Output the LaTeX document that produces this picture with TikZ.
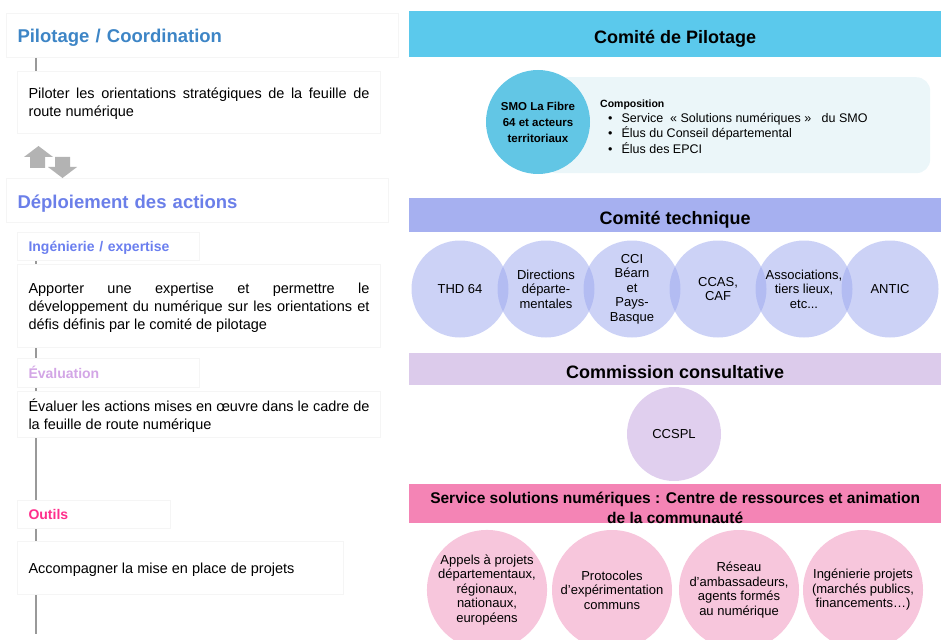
\documentclass[tikz,border=0pt]{standalone}
\usepackage{fontspec}
\setmainfont{Liberation Sans}
\usetikzlibrary{positioning}

\definecolor{cpilot}{HTML}{3D85C6}
\definecolor{cdeploy}{HTML}{6B7FE9}
\definecolor{cing}{HTML}{6B7FEF}
\definecolor{ceval}{HTML}{D3A6E6}
\definecolor{coutil}{HTML}{FF2E8C}
\definecolor{ccopil}{HTML}{5BC9EC}
\definecolor{ctechband}{HTML}{A6B0F0}
\definecolor{ctech}{HTML}{9AA6EE}
\definecolor{ccons}{HTML}{DCCBEB}
\definecolor{cccspl}{HTML}{E0CFEE}
\definecolor{cservband}{HTML}{F484B5}
\definecolor{cserv}{HTML}{F7C6DC}
\definecolor{ccomp}{HTML}{EBF6F9}
\definecolor{csmo}{HTML}{62C6E5}
\definecolor{cline}{HTML}{999999}
\definecolor{cicon}{HTML}{B3B3B3}

\begin{document}
\begin{tikzpicture}[x=1pt, y=-1pt,
	card/.style={fill=white, draw=black!4, line width=1pt, anchor=north west, inner xsep=11pt, inner ysep=0pt},
	head/.style={card, align=left, text height=18.5pt, text depth=3.5pt, font=\bfseries\fontsize{18.5}{22}\selectfont},
	subhead/.style={card, align=left, text height=12pt, text depth=2pt, font=\bfseries\fontsize{14}{17}\selectfont},
	body/.style={card, align=justify, text height=13pt, font=\fontsize{14.5}{18}\selectfont},
	timeline/.style={cline, line width=2pt},
	band/.style={anchor=north west, minimum width=532pt, inner sep=0pt, text height=18pt, text depth=0pt,
		font=\bfseries\fontsize{18}{22}\selectfont},
	techcirc/.style={circle, fill=ctech, fill opacity=0.5, text opacity=1,
		minimum size=97pt, inner sep=0pt, align=center,
		font=\fontsize{13}{14.5}\selectfont},
	servcirc/.style={circle, fill=cserv, minimum size=120pt, inner sep=0pt,
		align=center, font=\fontsize{13}{14.5}\selectfont}]
	\useasboundingbox (0,0) rectangle (941,639);
	\clip (0,0) rectangle (941,639);

	\node [head, text width=370pt, minimum height=44pt, text=cpilot] (pilhead) at (6,13) {Pilotage / Coordination};
	\node [body, text width=341pt, text depth=20pt, minimum height=62pt] (piltext) at (17,71) {Piloter les orientations stratégiques de la feuille de route numérique};
	\node [head, text width=360pt, minimum height=44pt, text=cdeploy] (dephead) at (6,178) {Déploiement des actions};
	\node [subhead, text width=160pt, minimum height=28pt, text=cing] (inghead) at (17,232) {Ingénierie / expertise};
	\node [body, text width=341pt, text depth=38pt, minimum height=83pt] (ingtext) at (17,264) {Apporter une expertise et permettre le\linebreak développement du numérique sur les orientations et\linebreak défis définis par le comité de pilotage};
	\node [subhead, text width=160pt, minimum height=29pt, text=ceval] (evalhead) at (17,358) {Évaluation};
	\node [body, text width=341pt, text depth=20pt, minimum height=46pt] (evaltext) at (17,391) {Évaluer les actions mises en œuvre dans le cadre de la feuille de route numérique};
	\node [subhead, text width=131pt, minimum height=28pt, text=coutil] (outhead) at (17,500) {Outils};
	\node [body, text width=304pt, text depth=2pt, minimum height=53pt] (outtext) at (17,541) {Accompagner la mise en place de projets};

	\coordinate (tl) at (36,0);
	\coordinate (tlend) at (36,634);
	\draw [timeline] (pilhead.south -| tl) -- (piltext.north -| tl);
	\draw [timeline] (inghead.south -| tl) -- (ingtext.north -| tl);
	\draw [timeline] (ingtext.south -| tl) -- (evalhead.north -| tl);
	\draw [timeline] (evalhead.south -| tl) -- (evaltext.north -| tl);
	\draw [timeline] (evaltext.south -| tl) -- (outhead.north -| tl);
	\draw [timeline] (outhead.south -| tl) -- (outtext.north -| tl);
	\draw [timeline] (outtext.south -| tl) -- (tlend);

	\fill [cicon] (24,157) -- (38.5,146) -- (53,157) -- (45,157) -- (45,168) -- (30,168) -- (30,157) -- cycle;
	\fill [cicon] (55,157) -- (70,157) -- (70,167) -- (77,167) -- (62.5,178) -- (48,167) -- (55,167) -- cycle;

	\node [band, fill=ccopil, minimum height=46pt] (copil) at (409,11) {Comité de Pilotage};
	\node [fill=ccomp, rounded corners=14pt, anchor=north west, minimum width=387pt, minimum height=96pt, inner sep=0pt] (compbox) at (543,77) {};
	\node [circle, fill=csmo, minimum size=104pt, inner sep=0pt, align=center, font=\bfseries\fontsize{11.5}{16}\selectfont] (smo) at (538,122) {SMO La Fibre\\64 et acteurs\\territoriaux};
	\node [anchor=west, inner sep=0pt, font=\bfseries\fontsize{10.5}{13}\selectfont] (comptitle) at (600,105) {Composition};
	\node [anchor=north west, inner sep=0pt, align=left, font=\fontsize{12.5}{15.5}\selectfont, below right=3pt and 8pt of comptitle.south west] (complist) {\textbullet\hspace{9pt}Service~~«~Solutions numériques~»~~~du SMO\\\textbullet\hspace{9pt}Élus du Conseil départemental\\\textbullet\hspace{9pt}Élus des EPCI};

	\node [band, fill=ctechband, minimum height=34pt] (cotech) at (409,198) {Comité technique};
	\node [techcirc] (thd) at (460,289) {THD 64};
	\node [techcirc] (dir) at (546,289) {Directions\\départe-\\mentales};
	\node [techcirc] (cci) at (632,289) {CCI\\Béarn\\et\\Pays-\\Basque};
	\node [techcirc] (ccas) at (718,289) {CCAS,\\CAF};
	\node [techcirc] (asso) at (804,289) {Associations,\\tiers lieux,\\etc...};
	\node [techcirc] (antic) at (890,289) {ANTIC};

	\node [band, fill=ccons, minimum height=32pt] (cocons) at (409,353) {Commission consultative};
	\node [circle, fill=cccspl, minimum size=94pt, inner sep=0pt, font=\fontsize{13}{15}\selectfont] (ccspl) at (674,434) {CCSPL};

	\node [band, fill=cservband, minimum height=39pt, align=center, text height=39pt, font=\bfseries\fontsize{15.5}{20}\selectfont] (serv) at (409,484) {Service solutions numériques : Centre de ressources et animation\\de la communauté};
	\node [servcirc] (appels) at (487,590) {Appels à projets\\départementaux,\\régionaux,\\nationaux,\\européens};
	\node [servcirc] (proto) at (612,590) {Protocoles\\d’expérimentation\\communs};
	\node [servcirc] (reseau) at (739,590) {Réseau\\d’ambassadeurs,\\agents formés\\au numérique};
	\node [servcirc] (inge) at (863,590) {Ingénierie projets\\(marchés publics,\\financements…)};
\end{tikzpicture}
\end{document}
